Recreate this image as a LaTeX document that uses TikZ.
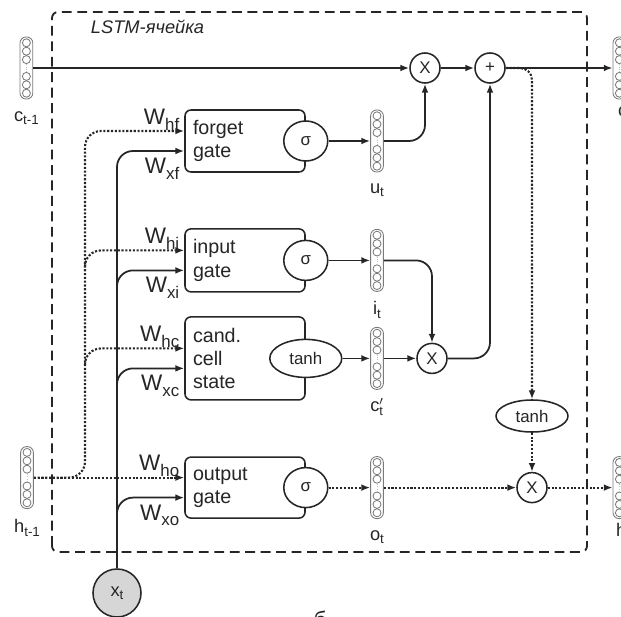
\documentclass[tikz,border=0pt]{standalone}
\usepackage{fontspec}
\setmainfont{Liberation Sans}
\usetikzlibrary{arrows.meta,shapes.geometric}

\definecolor{ink}{HTML}{262626}
\definecolor{vecgray}{HTML}{7A7A7A}
\definecolor{xtfill}{HTML}{D6D6D6}

\newcommand{\wsub}[1]{{\fontsize{16}{16}\selectfont W}\raisebox{-4pt}{\fontsize{12}{12}\selectfont #1}}
\newcommand{\vsub}[2]{{\fontsize{13}{13}\selectfont #1}\raisebox{-2.5pt}{\fontsize{9.5}{9.5}\selectfont #2}}

% one vector: rounded strip with cells
\newcommand{\vecnode}[2]{%
  \node (#1) [vecbox] at (#2) {};
  \foreach \k in {-3,-2,-1,1,2,3}
    \draw[vecgray, line width=0.6pt] (#1.center) ++(0,\k*0.21) circle (0.1);
  \draw[vecgray!50, line width=0.6pt, densely dotted] ([yshift=-1mm]#1.center) -- ([yshift=1mm]#1.center);
}

\tikzset{
  gatebox/.style={draw=ink, line width=1.1pt, rounded corners=0.15cm, fill=white,
    text width=2.6cm, inner xsep=0.2cm, align=left,
    font=\fontsize{14}{16.5}\selectfont},
  act/.style={ellipse, draw=ink, line width=1.1pt, fill=white, inner sep=0pt,
    font=\fontsize{12}{12}\selectfont},
  op/.style={circle, draw=ink, line width=1.1pt, fill=white, minimum size=0.75cm,
    inner sep=0pt, font=\fontsize{12}{12}\selectfont},
  vecbox/.style={draw=vecgray, line width=0.6pt, rounded corners=0.15cm, fill=white,
    minimum width=0.32cm, minimum height=1.55cm, inner sep=0pt},
  wlab/.style={inner sep=0.5pt},
  cline/.style={draw=ink, line width=1.25pt},
  hline/.style={draw=ink, line width=1.5pt, dash pattern=on 1.5pt off 1.2pt},
}

\begin{document}
\begin{tikzpicture}[>={Latex[length=2.2mm,width=1.7mm]}, ink]
    \clip (0,0) rectangle (15.525,15.4);
    % cell frame
    \draw[ink, line width=1.3pt, dash pattern=on 7pt off 4pt, rounded corners=0.15cm]
        (1.3,1.6) rectangle (14.675,15.1);
    \node (title) [anchor=west, font=\fontsize{13}{13}\selectfont\itshape] at (2.15,14.73) {LSTM-ячейка};

    % gates
    \node (forget) [gatebox, minimum height=1.55cm] at (6.125,11.875) {forget\\gate};
    \node (input)  [gatebox, minimum height=1.575cm] at (6.125,8.89) {input\\gate};
    \node (cand)   [gatebox, minimum height=2.075cm] at (6.125,6.44) {cand.\\cell\\state};
    \node (output) [gatebox, minimum height=1.525cm] at (6.125,3.21) {output\\gate};
    \node (fs) [act, minimum width=1.1cm, minimum height=1.0cm] at (forget.east) {σ};
    \node (is) [act, minimum width=1.1cm, minimum height=1.0cm] at (input.east) {σ};
    \node (ct) [act, minimum width=1.8cm, minimum height=0.95cm] at (cand.east) {tanh};
    \node (os) [act, minimum width=1.1cm, minimum height=1.0cm] at (output.east) {σ};

    % vectors
    \vecnode{cprev}{0.66,13.7}
    \vecnode{cnext}{15.485,13.7}
    \vecnode{ut}{9.425,11.875}
    \vecnode{it}{9.425,8.89}
    \vecnode{cc}{9.425,6.44}
    \vecnode{ot}{9.425,3.21}
    \vecnode{hprev}{0.675,3.46}
    \vecnode{hnext}{15.485,3.21}
    \node (cprev-l) at (0.66,12.45) {\vsub{c}{t-1}};
    \node (cnext-l) [anchor=west] at (15.33,12.575) {\vsub{c}{t}};
    \node (ut-l) at (9.425,10.65) {\vsub{u}{t}};
    \node (it-l) at (9.425,7.65) {\vsub{i}{t}};
    \node (cc-l) at (9.425,5.22) {\fontsize{13}{13}\selectfont$\mathrm{c}'_{\mathrm{t}}$};
    \node (ot-l) at (9.425,1.975) {\vsub{o}{t}};
    \node (hprev-l) at (0.675,2.2) {\vsub{h}{t-1}};
    \node (hnext-l) [anchor=west] at (15.28,2.1) {\vsub{h}{t}};

    % pointwise ops
    \node (mul1) [op] at (10.625,13.7) {X};
    \node (plus) [op] at (12.25,13.7) {+};
    \node (mul2) [op] at (10.8,6.44) {X};
    \node (tanh2) [act, minimum width=1.8cm, minimum height=0.8cm] at (13.3,5.0) {tanh};
    \node (mul3) [op] at (13.3,3.21) {X};
    \node (xt) [circle, draw=ink, line width=1.1pt, fill=xtfill, minimum size=1.2cm, inner sep=0pt]
        at (2.925,0.575) {\vsub{x}{t}};

    % entry points and weights
    \coordinate (hbus) at (2.125,7);
    \foreach \g/\s in {forget/f,input/i,cand/c,output/o} {
        \coordinate (h\g) at ([yshift=2.5mm]\g.west);
        \coordinate (x\g) at ([yshift=-2.5mm]\g.west);
        \node (wh\s) [wlab, anchor=south east] at ([xshift=-1mm]h\g) {\wsub{h\s}};
        \node (wx\s) [wlab, anchor=north east] at ([xshift=-1mm,yshift=-1.5mm]x\g) {\wsub{x\s}};
    }

    % h_{t-1} lines
    \draw[hline, ->, rounded corners=4mm] (hprev.east) -| (hbus) |- (hforget);
    \foreach \g in {input,cand}
        \draw[hline, ->, rounded corners=4mm] (h\g -| hbus) ++(0,-4mm) |- (h\g);
    \draw[hline, ->] (hprev.east) -- (houtput);

    % x_t lines
    \draw[cline, ->, rounded corners=4mm] (xt.north) |- (xforget);
    \foreach \g in {input,cand,output}
        \draw[cline, ->, rounded corners=4mm] (x\g -| xt) ++(0,-4.5mm) |- (x\g);

    % cell state
    \draw[hline, ->, rounded corners=3mm] (plus.east) -| (tanh2.north);
    \draw[cline, ->] (cprev.east) -- (mul1);
    \draw[cline, ->] (mul1) -- (plus);
    \draw[cline, ->] (plus) -- (cnext);
    \draw[cline, ->] (fs) -- (ut);
    \draw[cline, ->, rounded corners=4mm] (ut.east) -| (mul1.south);
    \draw[cline, ->] (is) -- (it);
    \draw[cline, ->, rounded corners=4mm] (it.east) -| (mul2.north);
    \draw[cline, ->] (ct) -- (cc);
    \draw[cline, ->] (cc) -- (mul2);
    \draw[cline, ->, rounded corners=4mm] (mul2.east) -| (plus.south);

    % output
    \draw[hline, ->] (os) -- (ot);
    \draw[hline, ->] (ot) -- (mul3);
    \draw[hline, ->] (tanh2) -- (mul3);
    \draw[hline, ->] (mul3) -- (hnext);

    \node (fig) [anchor=north, inner sep=0pt, font=\fontsize{16}{16}\selectfont] at (8.0,0.14) {б};
\end{tikzpicture}
\end{document}
